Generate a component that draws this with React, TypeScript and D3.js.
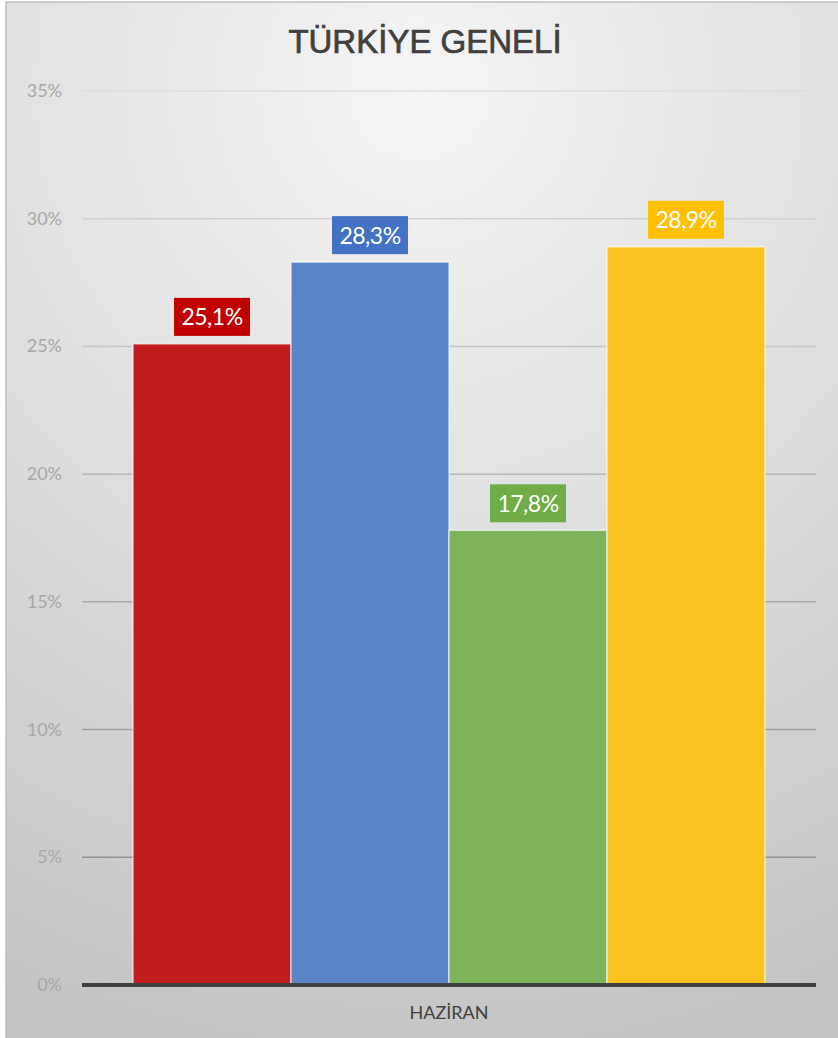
import { useEffect, useRef } from "react";
import * as d3 from "d3";

const title = "TÜRKİYE GENELİ";
const categories = ["HAZİRAN"];
const seriesNames = ["Seri 1", "Seri 2", "Seri 3", "Seri 4"];
const seriesValues = [25.1, 28.3, 17.8, 28.9];
const yTicks = [0, 5, 10, 15, 20, 25, 30, 35];

const barColors = ["#c21d1e", "#5a83c8", "#7cb35b", "#f9c321"];
const boxColors = ["#c00000", "#4472c4", "#70ad47", "#ffc000"];

const W = 838;
const H = 1038;

export default function App() {
  const svgRef = useRef<SVGSVGElement>(null);

  useEffect(() => {
    document.body.style.margin = "0";
    if (!svgRef.current) return;
    const svg = d3.select(svgRef.current);
    svg.selectAll("*").remove();

    const margin = { top: 91, left: 82, right: 22, bottom: 53 };
    const y = d3.scaleLinear().domain([0, 35]).range([H - margin.bottom, margin.top]);
    const y0 = y(0);

    const defs = svg.append("defs");
    const bg = defs
      .append("radialGradient")
      .attr("id", "bg")
      .attr("gradientUnits", "userSpaceOnUse")
      .attr("cx", 419)
      .attr("cy", 90)
      .attr("r", 1000);
    bg.append("stop").attr("offset", 0).attr("stop-color", "#f5f5f5");
    bg.append("stop").attr("offset", 0.38).attr("stop-color", "#e3e3e3");
    bg.append("stop").attr("offset", 0.9).attr("stop-color", "#c8c8c8");
    bg.append("stop").attr("offset", 1).attr("stop-color", "#c3c3c3");

    svg.append("rect").attr("width", W).attr("height", H).attr("fill", "#ffffff");
    svg
      .append("rect")
      .attr("x", 6)
      .attr("y", 2)
      .attr("width", W)
      .attr("height", H)
      .attr("fill", "url(#bg)")
      .attr("stroke", "#bfbfbf")
      .attr("stroke-width", 1.5);

    // title, slightly heavier than regular
    svg
      .append("text")
      .attr("x", 425)
      .attr("y", 53)
      .attr("text-anchor", "middle")
      .attr("font-family", "Liberation Sans, Arial, sans-serif")
      .attr("font-size", 33)
      .attr("fill", "#404040")
      .attr("stroke", "#404040")
      .attr("stroke-width", 0.7)
      .text(title);

    const gridColor = d3.interpolateRgb("#dedede", "#858585");
    const gridX2 = W - margin.right;

    svg
      .append("g")
      .selectAll("line")
      .data(yTicks.filter((t) => t > 0))
      .join("line")
      .attr("x1", margin.left)
      .attr("x2", gridX2)
      .attr("y1", (d) => y(d))
      .attr("y2", (d) => y(d))
      .attr("stroke", (d) => gridColor((35 - d) / 35))
      .attr("stroke-width", 1.5);

    svg
      .append("g")
      .selectAll("text")
      .data(yTicks)
      .join("text")
      .attr("x", 62)
      .attr("y", (d) => y(d) + 6)
      .attr("text-anchor", "end")
      .attr("font-family", "Lato, sans-serif")
      .attr("font-size", 18)
      .attr("fill", "#a8a8a8")
      .text((d) => `${d}%`);

    const x = d3
      .scaleBand()
      .domain(categories)
      .range([margin.left, gridX2])
      .paddingInner(0)
      .paddingOuter(0.0807);

    const xs = d3
      .scaleBand()
      .domain(seriesNames)
      .range([0, x.bandwidth()])
      .padding(0);

    const data = seriesNames.map((s, i) => ({
      name: s,
      value: seriesValues[i],
      cat: categories[0],
      color: barColors[i],
      box: boxColors[i],
    }));

    const g = svg.append("g");
    g.selectAll("rect.bar")
      .data(data)
      .join("rect")
      .attr("class", "bar")
      .attr("x", (d) => x(d.cat)! + xs(d.name)!)
      .attr("y", (d) => y(d.value))
      .attr("width", xs.bandwidth())
      .attr("height", (d) => y0 - y(d.value))
      .attr("fill", (d) => d.color)
      .attr("stroke", "rgba(255,255,255,0.6)")
      .attr("stroke-width", 1.5);

    const labels = g
      .selectAll("g.lbl")
      .data(data)
      .join("g")
      .attr("class", "lbl")
      .attr(
        "transform",
        (d) => `translate(${x(d.cat)! + xs(d.name)! + xs.bandwidth() / 2},${y(d.value) - 8})`,
      );
    labels
      .append("rect")
      .attr("x", -38)
      .attr("y", -38)
      .attr("width", 76)
      .attr("height", 38)
      .attr("fill", (d) => d.box);
    labels
      .append("text")
      .attr("x", 0)
      .attr("y", -10.5)
      .attr("text-anchor", "middle")
      .attr("font-family", "Lato, sans-serif")
      .attr("font-size", 23)
      .attr("letter-spacing", -0.5)
      .attr("fill", "#ffffff")
      .text((d) => `${d.value.toFixed(1).replace(".", ",")}%`);

    svg
      .append("line")
      .attr("x1", margin.left)
      .attr("x2", gridX2)
      .attr("y1", y0)
      .attr("y2", y0)
      .attr("stroke", "#404040")
      .attr("stroke-width", 4);

    svg
      .append("g")
      .selectAll("text")
      .data(categories)
      .join("text")
      .attr("x", (d) => x(d)! + x.bandwidth() / 2)
      .attr("y", 1019)
      .attr("text-anchor", "middle")
      .attr("font-family", "Lato, sans-serif")
      .attr("font-size", 18)
      .attr("fill", "#404040")
      .text((d) => d);
  }, []);

  return <svg ref={svgRef} width={W} height={H} style={{ display: "block" }} />;
}
